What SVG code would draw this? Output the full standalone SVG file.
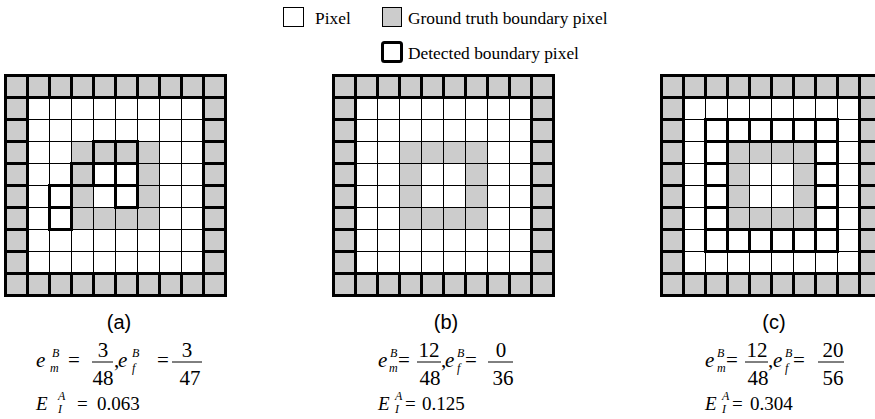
<svg xmlns="http://www.w3.org/2000/svg" width="875" height="419" viewBox="0 0 875 419">
<style>
.bg{fill:#fff}
.gt{fill:#ccc;fill-rule:evenodd}
.thin{fill:none;stroke:#000;stroke-width:1}
.thick{fill:none;stroke:#000;stroke-width:3;stroke-linecap:square}
.leg{font-family:"Liberation Serif","Times New Roman",serif;font-size:17.4px;fill:#000}
.cap{font-family:"Liberation Sans",Arial,sans-serif;font-size:20px;fill:#000;text-anchor:middle}
.m{font-family:"Liberation Serif","Times New Roman",serif;font-size:21px;fill:#000}
.c{text-anchor:middle}
.it{font-style:italic}
.s{font-size:12px}
.e{font-size:19px}
.fl{stroke:#000;stroke-width:1}
</style>
<defs>
<g id="base">
<rect class="bg" width="220" height="220"/>
<path class="gt" d="M0 0H220V220H0Z M22 22V198H198V22Z"/>
<path class="gt" d="M66 66H154V154H66Z M88 88V132H132V88Z"/>
<path class="thin" d="M22 0V220M44 0V220M66 0V220M88 0V220M110 0V220M132 0V220M154 0V220M176 0V220M198 0V220M0 22H220M0 44H220M0 66H220M0 88H220M0 110H220M0 132H220M0 154H220M0 176H220M0 198H220"/>
</g>
<path id="ring" class="thick" d="M0 0H220V220H0Z M22 22H198V198H22Z M22 0V22M44 0V22M66 0V22M88 0V22M110 0V22M132 0V22M154 0V22M176 0V22M198 0V22 M22 198V220M44 198V220M66 198V220M88 198V220M110 198V220M132 198V220M154 198V220M176 198V220M198 198V220 M0 22H22M0 44H22M0 66H22M0 88H22M0 110H22M0 132H22M0 154H22M0 176H22M0 198H22 M198 22H220M198 44H220M198 66H220M198 88H220M198 110H220M198 132H220M198 154H220M198 176H220M198 198H220"/>
</defs>

<g id="legend">
<rect x="283.5" y="7.5" width="20" height="19" fill="#fff" stroke="#000" stroke-width="1"/>
<text class="leg" x="315" y="24">Pixel</text>
<rect x="382.5" y="7.5" width="19" height="19" fill="#ccc" stroke="#000" stroke-width="1"/>
<text class="leg" x="408" y="24">Ground truth boundary pixel</text>
<rect x="382.5" y="42.5" width="19" height="19" rx="2" fill="#fff" stroke="#000" stroke-width="3"/>
<text class="leg" x="408" y="59">Detected boundary pixel</text>
</g>

<g id="grid-a" transform="translate(5.5 75.5)">
<use href="#base"/>
<use href="#ring"/>
<path class="thick" d="M88 66h22v22h-22z M110 66h22v22h-22z M66 88h22v22h-22z M88 88h22v22h-22z M110 88h22v22h-22z M44 110h22v22h-22z M110 110h22v22h-22z M44 132h22v22h-22z"/>
</g>

<g id="grid-b" transform="translate(333.5 75.5)">
<use href="#base"/>
<use href="#ring"/>
</g>

<g id="grid-c" transform="translate(661.5 75.5)">
<use href="#base"/>
<use href="#ring"/>
<path class="thick" d="M44 44H176V176H44Z M66 66H154V154H66Z M66 44V66M88 44V66M110 44V66M132 44V66M154 44V66 M66 154V176M88 154V176M110 154V176M132 154V176M154 154V176 M44 66H66M44 88H66M44 110H66M44 132H66M44 154H66 M154 66H176M154 88H176M154 110H176M154 132H176M154 154H176"/>
</g>

<g id="label-a">
<text class="cap" x="119" y="329">(a)</text>
<text class="m it" x="36" y="367">e</text>
<text class="m it s" x="52" y="357">B</text>
<text class="m it s" x="50" y="372">m</text>
<text class="m" x="68" y="367">=</text>
<text class="m c" x="103" y="357">3</text>
<line class="fl" x1="92" y1="362" x2="113" y2="362"/>
<text class="m c" x="103" y="385">48</text>
<text class="m" x="114" y="367">,</text>
<text class="m it" x="118" y="367">e</text>
<text class="m it s" x="132" y="357">B</text>
<text class="m it s" x="132" y="372">f</text>
<text class="m" x="157" y="367">=</text>
<text class="m c" x="187" y="357">3</text>
<line class="fl" x1="172" y1="362" x2="202" y2="362"/>
<text class="m c" x="190" y="385">47</text>
<text class="m it e" x="36" y="410">E</text>
<text class="m it s" x="58" y="400">A</text>
<text class="m it s" x="58" y="413">I</text>
<text class="m e" x="77" y="410">=</text>
<text class="m e" x="97" y="410">0.063</text>
</g>

<g id="label-b">
<text class="cap" x="446" y="329">(b)</text>
<text class="m it" x="378" y="367">e</text>
<text class="m it s" x="390" y="357">B</text>
<text class="m it s" x="389" y="372">m</text>
<text class="m" x="398" y="367">=</text>
<text class="m c" x="429" y="357">12</text>
<line class="fl" x1="417" y1="362" x2="441" y2="362"/>
<text class="m c" x="430" y="385">48</text>
<text class="m" x="441" y="367">,</text>
<text class="m it" x="445" y="367">e</text>
<text class="m it s" x="457" y="357">B</text>
<text class="m it s" x="457" y="372">f</text>
<text class="m" x="465" y="367">=</text>
<text class="m c" x="501" y="357">0</text>
<line class="fl" x1="488" y1="362" x2="513" y2="362"/>
<text class="m c" x="503" y="385">36</text>
<text class="m it e" x="378" y="410">E</text>
<text class="m it s" x="395" y="400">A</text>
<text class="m it s" x="395" y="413">I</text>
<text class="m e" x="405" y="410">=</text>
<text class="m e" x="422" y="410">0.125</text>
</g>

<g id="label-c">
<text class="cap" x="774" y="329">(c)</text>
<text class="m it" x="705" y="367">e</text>
<text class="m it s" x="717" y="357">B</text>
<text class="m it s" x="717" y="372">m</text>
<text class="m" x="726" y="367">=</text>
<text class="m c" x="757" y="357">12</text>
<line class="fl" x1="745" y1="362" x2="768" y2="362"/>
<text class="m c" x="758" y="385">48</text>
<text class="m" x="768" y="367">,</text>
<text class="m it" x="773" y="367">e</text>
<text class="m it s" x="785" y="357">B</text>
<text class="m it s" x="785" y="372">f</text>
<text class="m" x="793" y="367">=</text>
<text class="m c" x="833" y="357">20</text>
<line class="fl" x1="818" y1="362" x2="844" y2="362"/>
<text class="m c" x="833" y="385">56</text>
<text class="m it e" x="705" y="410">E</text>
<text class="m it s" x="722" y="400">A</text>
<text class="m it s" x="722" y="413">I</text>
<text class="m e" x="732" y="410">=</text>
<text class="m e" x="750" y="410">0.304</text>
</g>
</svg>
